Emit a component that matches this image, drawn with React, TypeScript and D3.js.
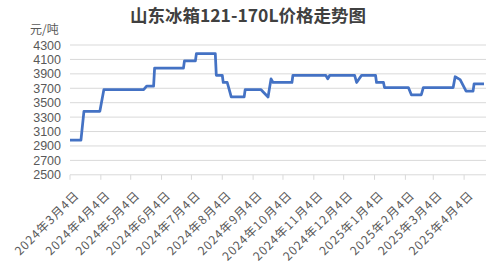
import React from "react";
import * as d3 from "d3";

const dates = [
  "2024-03-04", "2024-03-15", "2024-03-18", "2024-04-03", "2024-04-07", "2024-05-17",
  "2024-05-20", "2024-05-27", "2024-05-28", "2024-06-26", "2024-06-27", "2024-07-08",
  "2024-07-09", "2024-07-28", "2024-07-29", "2024-08-04", "2024-08-05", "2024-08-09",
  "2024-08-11", "2024-08-13", "2024-08-26", "2024-08-27", "2024-09-12", "2024-09-19",
  "2024-09-22", "2024-09-24", "2024-10-13", "2024-10-14", "2024-11-16", "2024-11-18",
  "2024-11-20", "2024-12-15", "2024-12-17", "2024-12-22", "2025-01-05", "2025-01-06",
  "2025-01-13", "2025-01-14", "2025-02-07", "2025-02-10", "2025-02-20", "2025-02-22",
  "2025-03-24", "2025-03-26", "2025-03-31", "2025-04-06", "2025-04-13", "2025-04-14",
  "2025-04-24",
];
const prices = [
  2980, 2980, 3380, 3380, 3680, 3680,
  3730, 3730, 3980, 3980, 4080, 4080,
  4180, 4180, 3880, 3880, 3780, 3780,
  3680, 3580, 3580, 3680, 3680, 3580,
  3830, 3780, 3780, 3880, 3880, 3830,
  3880, 3880, 3780, 3880, 3880, 3780,
  3780, 3710, 3710, 3610, 3610, 3710,
  3710, 3860, 3820, 3660, 3660, 3760,
  3760,
];
const tickDates = [
  "2024-03-04", "2024-04-04", "2024-05-04", "2024-06-04", "2024-07-04", "2024-08-04",
  "2024-09-04", "2024-10-04", "2024-11-04", "2024-12-04", "2025-01-04", "2025-02-04",
  "2025-03-04", "2025-04-04",
];
const yTicks = [2500, 2700, 2900, 3100, 3300, 3500, 3700, 3900, 4100, 4300];
const title = "山东冰箱121-170L价格走势图";
const unit = "元/吨";
const domainStart = "2024-03-04";
const domainEnd = "2025-04-26";

const parse = d3.timeParse("%Y-%m-%d");
const fmt = (d: Date) => `${d.getFullYear()}年${d.getMonth() + 1}月${d.getDate()}日`;

export default function App() {
  const W = 494, H = 269;
  const left = 70, right = 486, top = 45, bottom = 174.8;
  const x = d3.scaleTime().domain([parse(domainStart)!, parse(domainEnd)!]).range([left, right]);
  const y = d3.scaleLinear().domain([2500, 4300]).range([bottom, top]);
  const data = dates.map((d, i) => ({ d: parse(d)!, v: prices[i] }));
  const line = d3.line<{ d: Date; v: number }>().x(p => x(p.d)).y(p => y(p.v));
  const font = "'Noto Sans CJK SC', 'Noto Sans', sans-serif";
  const numFont = "'Liberation Sans', Arial, sans-serif";
  return (
    <svg width={W} height={H} style={{ position: "absolute", left: 0, top: 0, background: "#fff" }} fontFamily={font}>
      <rect width={W} height={H} fill="#fff" />
      <text x={248} y={22} textAnchor="middle" fontSize={17.5} fontWeight="bold" fill="#404040">{title}</text>
      <text x={30} y={34} fontSize={12} fill="#595959">{unit}</text>
      {yTicks.map(t => (
        <g key={t}>
          {t !== 2500 && <line x1={left} x2={right} y1={y(t)} y2={y(t)} stroke="#d9d9d9" strokeWidth={1} />}
          <text x={61} y={y(t) + 4.5} textAnchor="end" fontSize={12.5} fontFamily={numFont} fill="#595959">{t}</text>
        </g>
      ))}
      <line x1={left} x2={right} y1={bottom} y2={bottom} stroke="#d9d9d9" strokeWidth={1} />
      {tickDates.map(td => {
        const xv = x(parse(td)!);
        return (
          <g key={td}>
            <line x1={xv} x2={xv} y1={bottom} y2={bottom + 5} stroke="#d9d9d9" />
            <text transform={`translate(${xv + 10},196) rotate(-45)`} textAnchor="end" fontSize={12} letterSpacing={1} fill="#595959">{fmt(parse(td)!)}</text>
          </g>
        );
      })}
      <path d={line(data)!} fill="none" stroke="#4472C4" strokeWidth={2.75} strokeLinejoin="round" />
    </svg>
  );
}
